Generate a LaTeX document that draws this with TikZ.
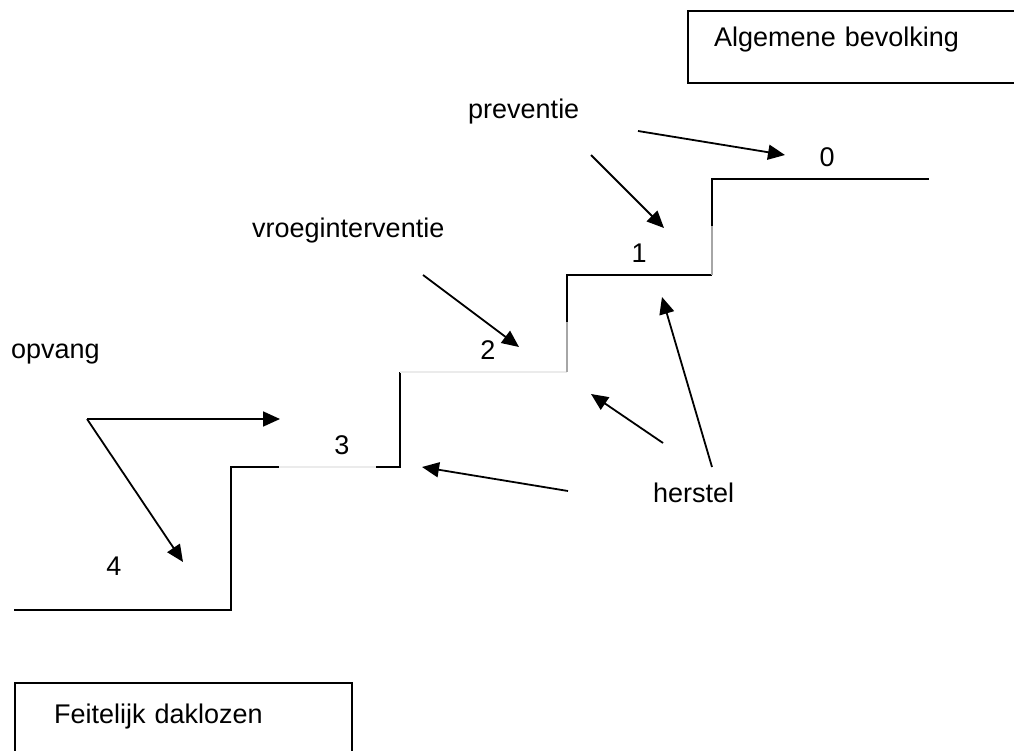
\documentclass[tikz,border=0pt]{standalone}
\usepackage{fontspec}
\setmainfont{Liberation Sans}
\usetikzlibrary{arrows.meta}
\begin{document}
\begin{tikzpicture}[x=1pt, y=-1pt,
		txt/.style = {anchor=base west, inner sep=0pt, font=\fontsize{27}{31}\selectfont},
		num/.style = {anchor=base, inner sep=0pt, font=\fontsize{27}{31}\selectfont},
		box/.style = {draw, line width=2.4pt, anchor=north west, inner ysep=0pt, align=left, font=\fontsize{27}{31}\selectfont},
		pijl/.style = {line width=1.8pt, -{Triangle[length=17pt, width=15pt]}},
		trap/.style = {line width=2pt},
		vaag/.style = {line width=1.2pt, black!35}]
			\useasboundingbox (0,0) rectangle (1014,751);
			\clip (0,0) rectangle (1014,751);

			\node[box, text width=291pt, inner xsep=26pt, text height=35pt, text depth=37pt] (algemeen) at (687,10) {Algemene bevolking};
			\node[box, text width=259pt, inner xsep=39pt, text height=40pt, text depth=68pt] (dakloos) at (14,682) {Feitelijk daklozen};

			\node[txt] (preventie) at (468,119) {preventie};
			\node[txt] (vroeg) at (252,238) {vroeginterventie};
			\node[txt] (opvang) at (11,358) {opvang};
			\node[txt] (herstel) at (653,502) {herstel};

			\node[num] (s0) at (827,167) {0};
			\node[num] (s1) at (639,262) {1};
			\node[num] (s2) at (488,359) {2};
			\node[num] (s3) at (342,454) {3};
			\node[num] (s4) at (114,575) {4};

			% trap
			\draw[trap] (14,610) -- (231,610) -- (231,467) -- (279,467);
			\draw[trap] (376,467) -- (400,467) -- (400,372);
			\draw[trap] (567,322) -- (567,275) -- (712,275);
			\draw[trap] (712,226) -- (712,179) -- (929,179);
			\draw[vaag, black!8] (279,467) -- (376,467);
			\draw[vaag, black!8] (400,372) -- (567,372);
			\draw[vaag] (567,372) -- (567,322);
			\draw[vaag] (712,275) -- (712,226);

			\coordinate (p1) at (638,131);
			\coordinate (p2) at (591,155);
			\coordinate (v1) at (423,275);
			\coordinate (o1) at (87,419);
			\coordinate (h1) at (712,467);
			\coordinate (h2) at (663,443);
			\coordinate (h3) at (568,491);
			\coordinate (t0) at (785,155);
			\coordinate (t1) at (664,228);
			\coordinate (t2) at (519,347);
			\coordinate (t3) at (280,419);
			\coordinate (t4) at (183,562);
			\coordinate (r1) at (662,297);
			\coordinate (r2) at (591,394);
			\coordinate (r3) at (422,467);

			\draw[pijl] (p1) to (t0);
			\draw[pijl] (p2) to (t1);
			\draw[pijl] (v1) to (t2);
			\draw[pijl] (o1) to (t3);
			\draw[pijl] (o1) to (t4);
			\draw[pijl] (h1) to (r1);
			\draw[pijl] (h2) to (r2);
			\draw[pijl] (h3) to (r3);
		\end{tikzpicture}
\end{document}
